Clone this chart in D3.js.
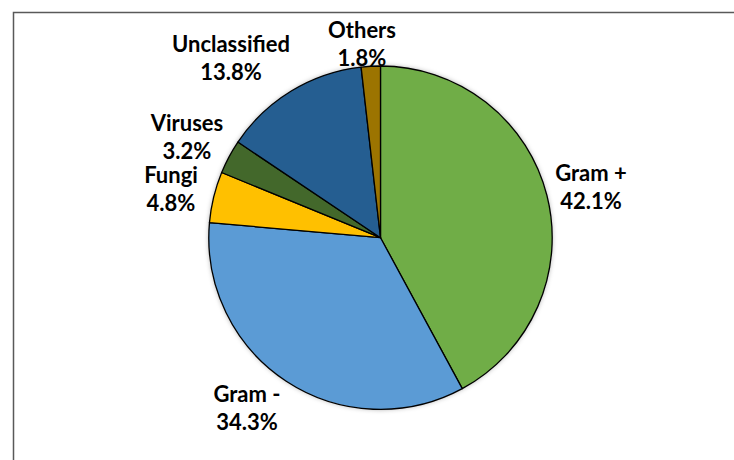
<!DOCTYPE html>
<html><head><meta charset="utf-8">
<script src="https://cdn.jsdelivr.net/npm/d3@7"></script>
<style>body{margin:0;background:#fff;}svg{display:block;}</style>
</head><body>
<script>
const categories = ["Gram +", "Gram -", "Fungi", "Viruses", "Unclassified", "Others"];
const values = [42.1, 34.3, 4.8, 3.2, 13.8, 1.8];
const valueLabels = ["42.1%", "34.3%", "4.8%", "3.2%", "13.8%", "1.8%"];
const colors = ["#70AD47", "#5B9BD5", "#FFC000", "#43682B", "#255E91", "#9C7400"];
// label anchor: center x, first-line baseline y (px)
const labelPos = [[591, 181], [247, 402], [171, 183], [187, 131], [231, 52], [362, 38]];

const W = 734, H = 460;
const svg = d3.select("body").append("svg").attr("width", W).attr("height", H);

const defs = svg.append("defs");
const f = defs.append("filter").attr("id", "sh").attr("x", "-10%").attr("y", "-10%").attr("width", "120%").attr("height", "120%");
f.append("feDropShadow").attr("dx", 0).attr("dy", 0).attr("stdDeviation", 2.5).attr("flood-color", "#000").attr("flood-opacity", 0.35);

svg.append("rect").attr("x", 13.5).attr("y", 12.5).attr("width", W).attr("height", H)
  .attr("fill", "none").attr("stroke", "#595959").attr("stroke-width", 1.5);

const cx = 380.5, cy = 237.7, r = 171.7;
const g = svg.append("g").attr("transform", `translate(${cx},${cy})`);
const pie = d3.pie().sort(null).value(d => d)(values);
const arc = d3.arc().innerRadius(0).outerRadius(r);

g.append("circle").attr("r", r).attr("fill", "#fff").attr("filter", "url(#sh)");
g.selectAll("path").data(pie).enter().append("path")
  .attr("d", arc).attr("fill", (d, i) => colors[i])
  .attr("stroke", "#000").attr("stroke-width", 1.3).attr("stroke-linejoin", "round");

const lab = svg.append("g").attr("font-family", "Lato, 'Open Sans', sans-serif")
  .attr("font-weight", "bold").attr("font-size", 22).attr("fill", "#000").attr("text-anchor", "middle");
categories.forEach((c, i) => {
  const [x, y] = labelPos[i];
  lab.append("text").attr("x", x).attr("y", y).text(c);
  lab.append("text").attr("x", x).attr("y", y + 28).text(valueLabels[i]);
});
</script>
</body></html>
